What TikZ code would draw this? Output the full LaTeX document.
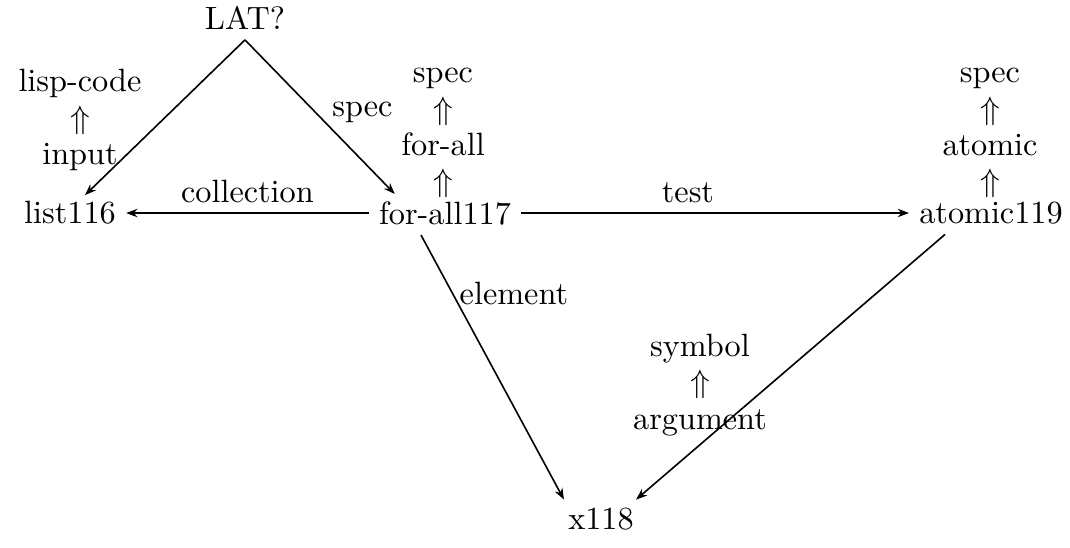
\documentclass[tikz,border=0pt]{standalone}
\usepackage{amsmath,amssymb}
\usepackage{tikz}
\usetikzlibrary{arrows.meta,positioning,calc}

\begin{document}
\begin{tikzpicture}[
  x=0.31pt, y=-0.31pt,
  obj/.style={inner sep=3pt, font=\normalsize},
  stack/.style={align=center, inner sep=0pt, font=\fontsize{10}{11.2}\selectfont},
  arr/.style={-{Stealth[length=3.5pt,width=2.6pt]}, line width=0.5pt},
  lab/.style={inner sep=1pt, font=\normalsize}
]
  \useasboundingbox (0,0) rectangle (1070,547);

  \node[obj] (lat)     at (245,18)  {LAT?};
  \node[obj] (list116) at (70,213)  {list116};
  \node[obj] (forall)  at (445,213) {for-all117};
  \node[obj] (atomic)  at (991,213) {atomic119};
  \node[obj] (x118)    at (601,519) {x118};

  % type chains
  \node[stack] (listtype)   at (80,120)  {lisp-code\\$\Uparrow$\\input};
  \node[stack] (foralltype) at (443,133) {spec\\$\Uparrow$\\for-all\\$\Uparrow$};
  \node[stack] (atomictype) at (990,133) {spec\\$\Uparrow$\\atomic\\$\Uparrow$};
  \node[stack] (argtype)    at (700,385) {symbol\\$\Uparrow$\\argument};

  % links
  \draw[arr] (lat.south) -- ($(list116.north)+(15,4)$);
  \draw[arr] (lat.south) -- node[lab,right=4pt,pos=0.47]{spec} ($(forall.north west)+(26,3)$);
  \draw[arr] (forall.west) -- node[lab,above=2pt]{collection} (list116.east);
  \draw[arr] (forall.east) -- node[lab,above=2pt,pos=0.43]{test} (atomic.west);
  \draw[arr] ($(forall.south)+(-24,0)$) -- node[lab,right=1pt,pos=0.22]{element} ($(x118.north west)+(6,2)$);
  \draw[arr] ($(atomic.south)+(-46,0)$) -- ($(x118.north east)+(-8,2)$);
\end{tikzpicture}
\end{document}
